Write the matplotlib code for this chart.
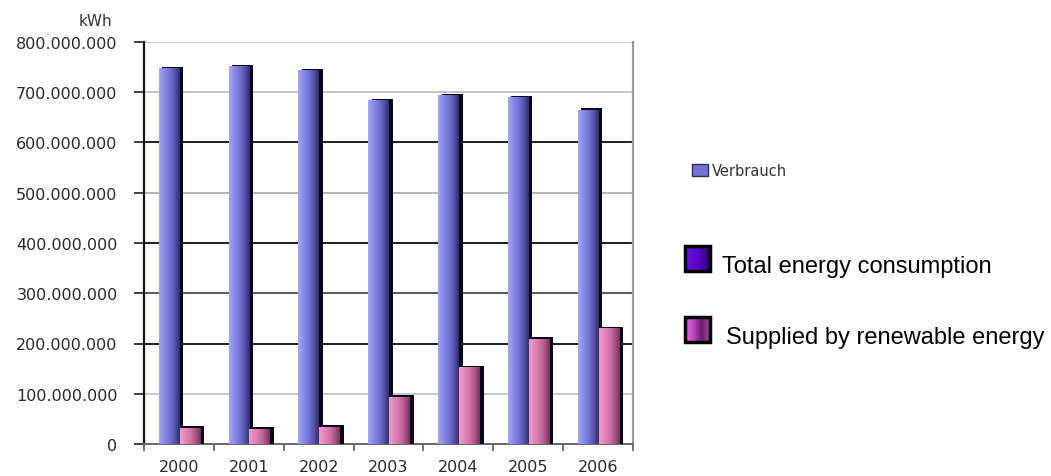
import matplotlib
matplotlib.use("Agg")
import matplotlib.pyplot as plt
import numpy as np
from matplotlib.colors import LinearSegmentedColormap
from matplotlib.patches import Rectangle
from matplotlib.ticker import FuncFormatter, MultipleLocator, FixedLocator

years = ['2000', '2001', '2002', '2003', '2004', '2005', '2006']
verbrauch = [748e6, 752e6, 744e6, 684e6, 694e6, 690e6, 665e6]
erneuerbar = [32e6, 30e6, 34e6, 94e6, 153e6, 209e6, 230e6]

W, H = 1051, 477
fig = plt.figure(figsize=(W / 100, H / 100), dpi=100)
fig.patch.set_facecolor('white')

# plot area in pixels: left 144, right 633, top 43, bottom 445
ax = fig.add_axes([144 / W, (H - 445) / H, (633 - 144) / W, (445 - 43) / H])

blue_cmap = LinearSegmentedColormap.from_list(
    'blue3d', ['#a4a4fa', '#8a8aec', '#7474d6', '#5656ae', '#2e2e70'])
pink_cmap = LinearSegmentedColormap.from_list(
    'pink3d', ['#f0a0cc', '#e486bc', '#d074a8', '#ac5888', '#74345a'])

grad = np.linspace(0, 1, 64).reshape(1, -1)
bw = 0.3
x = np.arange(len(years))


def shaded_bars(xpos, values, cmap):
    # black shadow a little to the right, gradient face on top
    ax.bar(xpos + 0.05, [v + 3e6 for v in values], width=bw, color='#06061a',
           zorder=3, linewidth=0)
    bars = ax.bar(xpos, values, width=bw, color='none', linewidth=0, zorder=4)
    for b in bars:
        im = ax.imshow(grad, cmap=cmap, aspect='auto', zorder=4,
                       extent=[b.get_x(), b.get_x() + b.get_width(), 0, b.get_height()])
        im.set_clip_path(b)


shaded_bars(x - 0.14, verbrauch, blue_cmap)
shaded_bars(x + 0.16, erneuerbar, pink_cmap)

ax.set_xlim(-0.5, len(years) - 0.5)
ax.set_ylim(0, 800e6)

# horizontal gridlines, alternating dark and light
grid_colors = {100: '#c8c8c8', 200: '#1e1e1e', 300: '#5a5a5a', 400: '#1e1e1e',
               500: '#b4b4b4', 600: '#1e1e1e', 700: '#c4c4c4', 800: '#cccccc'}
for k, c in grid_colors.items():
    ax.axhline(k * 1e6, color=c, linewidth=1.4, zorder=1)

ax.spines['top'].set_visible(False)
ax.spines['right'].set_color('#9a9a9a')
ax.spines['right'].set_linewidth(1.6)
ax.spines['left'].set_color('#111111')
ax.spines['left'].set_linewidth(1.6)
ax.spines['bottom'].set_color('#666666')
ax.spines['bottom'].set_linewidth(1.4)

ax.yaxis.set_major_locator(MultipleLocator(100e6))
ax.yaxis.set_major_formatter(FuncFormatter(lambda v, p: f'{int(v):,}'.replace(',', '.')))
ax.tick_params(axis='y', length=7, width=1.3, color='#333333', pad=12,
               labelsize=11.5, labelcolor='#2a2a2a')

ax.set_xticks(x)
ax.set_xticklabels(years)
ax.xaxis.set_minor_locator(FixedLocator(np.arange(-0.5, len(years), 1.0)))
ax.tick_params(axis='x', which='major', length=0, pad=11, labelsize=11.5,
               labelcolor='#2a2a2a')
ax.tick_params(axis='x', which='minor', length=5, width=1.2, color='#555555')

fig.text(95 / W, 1 - 22 / H, 'kWh', ha='center', va='center', fontsize=11,
         color='#333333')

# legend area drawn in pixel coordinates
lg = fig.add_axes([0, 0, 1, 1], zorder=5)
lg.set_xlim(0, W)
lg.set_ylim(H, 0)
lg.axis('off')

lg.add_patch(Rectangle((692, 165), 16, 12, facecolor='#7474d4',
                       edgecolor='#30305a', linewidth=1))
lg.text(712, 171.5, 'Verbrauch', ha='left', va='center', fontsize=10.5,
        color='#333333')

total_cmap = LinearSegmentedColormap.from_list('tot', ['#7010e0', '#5a08c8', '#30007a'])
supp_cmap = LinearSegmentedColormap.from_list('sup', ['#f060f0', '#c048c0', '#6a206a', '#a040a0'])

for (y0, cm, label, tx) in [(247, total_cmap, 'Total energy consumption', 722),
                            (318, supp_cmap, 'Supplied by renewable energy', 726)]:
    lg.imshow(grad, cmap=cm, aspect='auto', extent=[685, 710, y0 + 25, y0], zorder=6)
    lg.add_patch(Rectangle((685, y0), 25, 25, facecolor='none', edgecolor='black',
                           linewidth=2.5, zorder=7))
    lg.text(tx, y0 + 26, label, ha='left', va='baseline', fontsize=17,
            family='Liberation Sans', color='black')
lg.set_xlim(0, W)
lg.set_ylim(H, 0)

fig.savefig('out.png', dpi=100)
